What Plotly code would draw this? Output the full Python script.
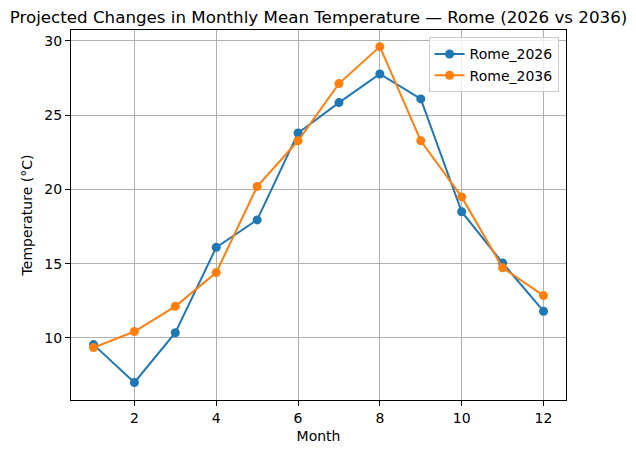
import plotly.graph_objects as go

months = list(range(1, 13))
rome_2026 = [9.55, 7.0, 10.35, 16.1, 17.95, 23.8, 25.85, 27.78, 26.1, 18.5, 15.05, 11.8]
rome_2036 = [9.35, 10.43, 12.13, 14.4, 20.2, 23.28, 27.13, 29.62, 23.28, 19.5, 14.73, 12.85]
series_names = ["Rome_2026", "Rome_2036"]
colors = ["#1f77b4", "#ff7f0e"]

fig = go.Figure()
for name, vals, c in zip(series_names, [rome_2026, rome_2036], colors):
    fig.add_trace(go.Scatter(
        x=months, y=vals, name=name, mode="lines+markers",
        line=dict(color=c, width=2),
        marker=dict(color=c, size=9),
    ))

font = "DejaVu Sans"
fig.update_layout(
    width=636, height=453,
    margin=dict(l=71, r=70, t=30, b=53),
    paper_bgcolor="white", plot_bgcolor="white",
    font=dict(family=font, size=14, color="black"),
    title=dict(text="Projected Changes in Monthly Mean Temperature — Rome (2026 vs 2036)",
               x=(71 + 566) / 2 / 636, xanchor="center", y=1 - 17 / 453, yanchor="middle",
               font=dict(family=font, size=16.7, color="black")),
    showlegend=True,
    legend=dict(x=0.985, xanchor="right", y=0.98, yanchor="top",
                bordercolor="#cccccc", borderwidth=1, bgcolor="rgba(255,255,255,0.8)",
                font=dict(family=font, size=14), tracegroupgap=0,
                itemwidth=30),
)
fig.update_xaxes(
    range=[0.45, 12.55], tickvals=[2, 4, 6, 8, 10, 12],
    showgrid=True, gridcolor="#b0b0b0", gridwidth=1,
    showline=True, linecolor="black", linewidth=1, mirror=True,
    ticks="outside", ticklen=5, tickcolor="black", zeroline=False,
    title=dict(text="Month", font=dict(family=font, size=14), standoff=6),
)
fig.update_yaxes(
    range=[5.82, 30.74], tickvals=[10, 15, 20, 25, 30],
    showgrid=True, gridcolor="#b0b0b0", gridwidth=1,
    showline=True, linecolor="black", linewidth=1, mirror=True,
    ticks="outside", ticklen=5, tickcolor="black", zeroline=False,
    title=dict(text="Temperature (°C)", font=dict(family=font, size=14), standoff=8),
)

fig.write_html("out.html")
